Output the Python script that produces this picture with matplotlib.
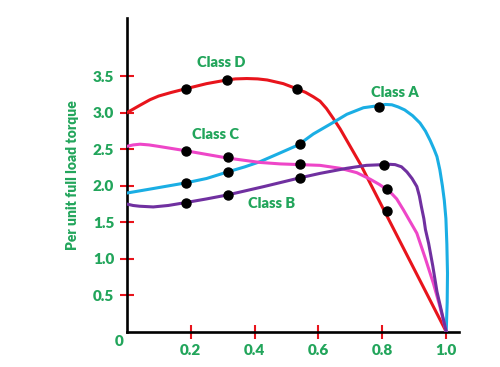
import matplotlib
matplotlib.use("Agg")
import matplotlib.pyplot as plt

# speed-torque curves (x = per unit speed, y = per unit torque)
d_x = [0.0, 0.02, 0.04, 0.073, 0.10, 0.14, 0.185, 0.25, 0.313, 0.34, 0.376, 0.41, 0.44, 0.49, 0.532,
       0.56, 0.584, 0.605, 0.625, 0.647, 0.668, 0.689, 0.71, 0.731, 1.0]
d_y = [3.00, 3.05, 3.10, 3.18, 3.23, 3.28, 3.33, 3.40, 3.45, 3.465, 3.47, 3.465, 3.45, 3.40, 3.33,
       3.28, 3.22, 3.16, 3.06, 2.92, 2.78, 2.62, 2.46, 2.30, 0.0]

a_x = [0.0, 0.08, 0.185, 0.25, 0.316, 0.37, 0.417, 0.48, 0.537, 0.584, 0.647, 0.689, 0.741, 0.791,
       0.81, 0.83, 0.85, 0.87, 0.895, 0.918, 0.935, 0.95, 0.962, 0.971, 0.98, 0.988, 0.994, 0.999,
       1.002, 1.004, 1.003, 1.0]
a_y = [1.90, 1.96, 2.04, 2.10, 2.19, 2.26, 2.33, 2.45, 2.56, 2.71, 2.87, 2.98, 3.07, 3.10,
       3.115, 3.11, 3.08, 3.04, 2.96, 2.86, 2.75, 2.62, 2.50, 2.40, 2.22, 2.00, 1.80, 1.55,
       1.20, 0.80, 0.40, 0.0]

c_x = [0.0, 0.02, 0.042, 0.07, 0.1, 0.185, 0.25, 0.316, 0.417, 0.48, 0.543, 0.605, 0.668, 0.72,
       0.762, 0.79, 0.814, 0.83, 0.845, 0.866, 0.887, 0.908, 0.935, 0.96, 0.98, 1.0]
c_y = [2.54, 2.56, 2.57, 2.56, 2.54, 2.48, 2.43, 2.38, 2.32, 2.30, 2.29, 2.28, 2.24, 2.18,
       2.09, 2.02, 1.95, 1.89, 1.82, 1.67, 1.51, 1.35, 1.00, 0.66, 0.35, 0.0]

b_x = [0.0, 0.02, 0.04, 0.083, 0.13, 0.185, 0.25, 0.316, 0.43, 0.543, 0.605, 0.689, 0.75, 0.804,
       0.82, 0.84, 0.86, 0.877, 0.893, 0.908, 0.916, 0.922, 0.93, 0.935, 0.945, 0.958, 0.971, 1.0]
b_y = [1.75, 1.73, 1.72, 1.71, 1.73, 1.77, 1.82, 1.875, 1.99, 2.11, 2.17, 2.24, 2.28, 2.29,
       2.295, 2.29, 2.26, 2.19, 2.10, 1.99, 1.86, 1.72, 1.55, 1.40, 1.21, 0.90, 0.55, 0.0]

# black dots
dot_x = [0.185, 0.313, 0.532, 0.814,
         0.185, 0.316, 0.543, 0.791,
         0.185, 0.316, 0.543, 0.814,
         0.185, 0.316, 0.543, 0.804]
dot_y = [3.33, 3.45, 3.33, 1.66,
         2.04, 2.19, 2.57, 3.08,
         2.48, 2.39, 2.30, 1.95,
         1.77, 1.875, 2.10, 2.29]

labels = ["Class D", "Class C", "Class B", "Class A"]
label_x = [0.297, 0.279, 0.454, 0.838]
label_y = [3.69, 2.70, 1.76, 3.28]

xticks = [0.2, 0.4, 0.6, 0.8, 1.0]
yticks = [0.5, 1.0, 1.5, 2.0, 2.5, 3.0, 3.5]

green = "#22A55B"
font = ["Lato", "DejaVu Sans"]

fig = plt.figure(figsize=(5, 3.67), dpi=100)
ax = fig.add_axes([0.2534, 0.0962, 0.6646, 0.8548])

ax.plot(d_x, d_y, color="#E8141C", lw=2.2, zorder=3, solid_joinstyle="round")
ax.plot(a_x, a_y, color="#1AAEE4", lw=2.2, zorder=3, solid_joinstyle="round")
ax.plot(c_x, c_y, color="#EE46C8", lw=2.2, zorder=3, solid_joinstyle="round")
ax.plot(b_x, b_y, color="#7030A0", lw=2.2, zorder=3, solid_joinstyle="round")
ax.plot(dot_x, dot_y, "o", color="black", ms=6.5, zorder=4)

for t, x, y in zip(labels, label_x, label_y):
    ax.text(x, y, t, color=green, fontsize=10.5, fontweight="heavy", family=font,
            ha="center", va="center")

ax.set_xlim(0, 1.04)
ax.set_ylim(0, 4.3)
ax.set_xticks(xticks)
ax.set_yticks(yticks)
ax.set_xticklabels(["0.2", "0.4", "0.6", "0.8", "1.0"])
ax.set_yticklabels(["0.5", "1.0", "1.5", "2.0", "2.5", "3.0", "3.5"])
for lab in ax.get_xticklabels() + ax.get_yticklabels():
    lab.set_color(green)
    lab.set_fontweight("heavy")
    lab.set_family(font)
    lab.set_fontsize(11)
ax.tick_params(axis="both", direction="inout", length=10, width=1.5, color="#E8141C")
ax.tick_params(axis="x", pad=4)
ax.tick_params(axis="y", pad=4)

ax.spines["top"].set_visible(False)
ax.spines["right"].set_visible(False)
ax.spines["left"].set_linewidth(1.9)
ax.spines["bottom"].set_linewidth(1.9)

ax.text(-0.024, -0.128, "0", color=green, fontsize=11, fontweight="heavy", family=font,
        ha="center", va="center")
ax.set_ylabel("Per unit full load torque", color=green, fontsize=10, fontweight="heavy",
              family=font, labelpad=10)

fig.savefig("out.png", dpi=100)
